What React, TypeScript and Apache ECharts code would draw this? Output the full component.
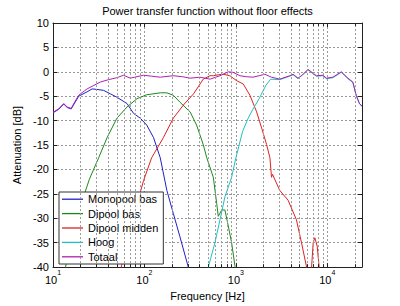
import React, { useEffect, useRef } from 'react';
import * as echarts from 'echarts';

// Frequencies (Hz) and attenuation (dB)
const monoFreq = [10, 11.5, 13.1, 14.3, 15.8, 17.5, 19.1, 23.6, 26.8, 30, 35.8, 42.3, 50, 64.5, 76, 90, 106, 126, 149, 176, 207, 244, 302];
const monoDb = [-8.4, -7.7, -6.6, -7.3, -7.6, -6.2, -5.0, -4.1, -3.5, -3.6, -3.8, -4.5, -5.2, -6.5, -8.5, -9.5, -10.9, -13.5, -17.6, -24.3, -29, -33.7, -40];

const dipBasFreq = [13.2, 13.7, 18, 25, 31.6, 39, 50, 64.5, 83, 106, 149, 176, 207, 244, 316, 372, 440, 481, 567, 618, 643, 700, 760, 827, 899, 977, 1000];
const dipBasDb = [-42, -40, -30, -22, -17.6, -13.5, -9.5, -7.2, -5.5, -4.7, -4.3, -4.3, -4.8, -6.2, -8.2, -10.9, -14.9, -17.6, -21.6, -27.0, -29.6, -28.3, -28.3, -31.6, -35, -39.7, -41];

const dipMidFreq = [54, 55.8, 75, 97.8, 120, 161, 207, 267, 345, 440, 522, 567, 650, 728, 860, 1018, 1206, 1426, 1688, 1915, 2170, 2360, 2430, 2456, 2520, 3025, 3730, 4600, 5230, 5940, 6400, 6740, 7020, 7320, 7760, 8160, 8400];
const dipMidDb = [-42, -40, -30, -22.3, -17.6, -13.5, -9.5, -6.8, -4.5, -1.5, -0.8, -0.8, -0.6, -0.5, -0.8, -1.8, -2.5, -4.8, -8.2, -11.5, -14.9, -17.6, -20.5, -21.6, -21.0, -24.3, -26.3, -30.3, -35, -40, -48, -40, -35, -34, -35.7, -40, -44];

const hoogFreq = [480, 500, 591, 671, 760, 899, 1002, 1186, 1365, 1524, 1800, 2128, 2400, 3025, 3890, 4230, 4790, 6160, 7600, 8980, 9770, 11540, 14250, 16830, 19070, 20740, 22540, 24000];
const hoogDb = [-42, -40, -35, -30.3, -25.6, -21.6, -17.6, -12.2, -9.5, -7.8, -5.5, -2.8, -1.5, -1.6, -0.9, -0.6, -1.4, 0.4, -0.9, -0.8, -1.4, -1.2, -0.1, -1.4, -2.2, -4.9, -6.6, -7.1];

const totaalFreq = [10, 11.5, 13.1, 14.3, 15.8, 17.5, 19.1, 23.6, 32.9, 40.6, 50, 59, 70, 98, 120, 149, 206, 260, 316, 406, 522, 671, 827, 930, 1109, 1300, 1537, 1800, 2077, 2456, 3025, 3890, 4230, 4790, 5400, 6160, 7600, 8980, 9770, 11540, 14250, 16830, 19070, 20740, 22540, 24000];
const totaalDb = [-8.3, -7.6, -6.5, -7.2, -7.5, -6.0, -4.8, -3.5, -2.1, -1.6, -1.2, -0.7, -1.3, -0.7, -0.9, -1.1, -0.8, -1.0, -1.3, -1.1, -1.5, -0.8, 0.0, -0.1, -0.8, -1.0, -1.1, -0.8, -0.5, -1.1, -1.5, -0.8, -0.5, -1.3, -0.6, 0.5, -0.8, -0.7, -1.3, -1.1, 0.0, -1.3, -2.1, -4.8, -6.5, -7.0];

const seriesNames = ['Monopool bas', 'Dipool bas', 'Dipool midden', 'Hoog', 'Totaal'];
const seriesColors = ['#2020c8', '#1a8a1a', '#e02020', '#20c0c0', '#b020b0'];

const minorGridFreqs = [20, 30, 40, 50, 60, 70, 80, 90, 200, 300, 400, 500, 600, 700, 800, 900, 2000, 3000, 4000, 5000, 6000, 7000, 8000, 9000, 20000];

const titleText = 'Power transfer function without floor effects';
const xName = 'Frequency [Hz]';
const yName = 'Attenuation [dB]';

const FONT = 'Liberation Sans, Arial, Helvetica, sans-serif';

const pair = (f: number[], d: number[]) => f.map((x, i) => [x, d[i]]);

export default function App() {
  const ref = useRef<HTMLDivElement>(null);
  useEffect(() => {
    document.body.style.margin = '0';
    const chart = echarts.init(ref.current!, null, { renderer: 'svg' });
    const gridStyle = { color: '#999', width: 1, type: [2, 2] as any };
    const axisColor = '#222';
    const expLabel = (v: number) => {
      const l = Math.log10(v);
      const n = Math.round(l);
      if (Math.abs(l - n) > 1e-6) return '';
      return `{b|10}{s|${n}}`;
    };
    const lineData = [pair(monoFreq, monoDb), pair(dipBasFreq, dipBasDb), pair(dipMidFreq, dipMidDb), pair(hoogFreq, hoogDb), pair(totaalFreq, totaalDb)];
    const minorMarks: any[] = [];
    minorGridFreqs.forEach((f) => minorMarks.push({ xAxis: f }));
    const tickMarks: any[] = [];
    minorGridFreqs.forEach((f) => {
      tickMarks.push([{ coord: [f, -40] }, { coord: [f, -39.4] }]);
      tickMarks.push([{ coord: [f, 10] }, { coord: [f, 9.4] }]);
    });
    const option: any = {
      animation: false,
      textStyle: { fontFamily: FONT },
      graphic: [
        {
          type: 'text',
          x: 207.5,
          y: 11,
          style: { text: titleText, align: 'center', verticalAlign: 'middle', fontSize: 11, fontFamily: FONT, fill: '#000' },
        },
      ],
      grid: { left: 53, right: 38, top: 23, bottom: 34 },
      legend: {
        data: seriesNames.map((n) => ({ name: n, icon: 'rect' })),
        orient: 'vertical',
        left: 59,
        top: 192,
        backgroundColor: '#fff',
        borderColor: '#333',
        borderWidth: 1,
        borderRadius: 0,
        padding: [0, 5, 0, 3],
        itemGap: 0,
        itemWidth: 21,
        itemHeight: 1.3,
        textStyle: { fontSize: 11, fontFamily: FONT, color: '#000', lineHeight: 14.4 },
        selectedMode: false,
      },
      xAxis: [
        {
          type: 'log',
          logBase: 10,
          min: 10,
          max: 24000,
          name: xName,
          nameLocation: 'middle',
          nameGap: 20,
          nameTextStyle: { fontSize: 11, color: '#000', fontFamily: FONT },
          axisLine: { show: true, onZero: false, lineStyle: { color: axisColor, width: 1 } },
          axisTick: { show: true, inside: true, length: 4, lineStyle: { color: axisColor } },
          axisLabel: {
            margin: 2,
            color: '#000',
            formatter: expLabel,
            showMaxLabel: false,
            rich: {
              b: { fontSize: 11, lineHeight: 16, verticalAlign: 'bottom', fontFamily: FONT, color: '#000' },
              s: { fontSize: 7, lineHeight: 7, verticalAlign: 'top', fontFamily: FONT, color: '#000' },
            },
          },
          splitLine: { show: true, lineStyle: gridStyle },
        },
        {
          type: 'log',
          logBase: 10,
          min: 10,
          max: 24000,
          position: 'top',
          axisLine: { show: true, onZero: false, lineStyle: { color: axisColor, width: 1 } },
          axisTick: { show: true, inside: true, length: 4, lineStyle: { color: axisColor } },
          axisLabel: { show: false },
          splitLine: { show: false },
        },
      ],
      yAxis: [
        {
          type: 'value',
          min: -40,
          max: 10,
          interval: 5,
          name: yName,
          nameLocation: 'middle',
          nameGap: 22,
          nameTextStyle: { fontSize: 11, color: '#000', fontFamily: FONT },
          axisLine: { show: true, onZero: false, lineStyle: { color: axisColor, width: 1 } },
          axisTick: { show: true, inside: true, length: 4, lineStyle: { color: axisColor } },
          axisLabel: { fontSize: 11, color: '#000', margin: 4, fontFamily: FONT },
          splitLine: { show: true, lineStyle: gridStyle },
        },
        {
          type: 'value',
          min: -40,
          max: 10,
          interval: 5,
          position: 'right',
          axisLine: { show: true, onZero: false, lineStyle: { color: axisColor, width: 1 } },
          axisTick: { show: true, inside: true, length: 4, lineStyle: { color: axisColor } },
          axisLabel: { show: false },
          splitLine: { show: false },
        },
      ],
      series: [
        {
          type: 'line',
          name: '__grid',
          data: [],
          xAxisIndex: 0,
          yAxisIndex: 0,
          silent: true,
          markLine: {
            silent: true,
            symbol: ['none', 'none'],
            label: { show: false },
            lineStyle: gridStyle,
            data: minorMarks,
          },
        },
        {
          type: 'line',
          name: '__ticks',
          data: [],
          xAxisIndex: 0,
          yAxisIndex: 0,
          silent: true,
          markLine: {
            silent: true,
            symbol: ['none', 'none'],
            label: { show: false },
            lineStyle: { color: axisColor, width: 1, type: 'solid' },
            data: tickMarks,
          },
        },
        ...seriesNames.map((name, i) => ({
          type: 'line',
          name,
          data: lineData[i],
          xAxisIndex: 0,
          yAxisIndex: 0,
          symbol: 'none',
          showSymbol: false,
          clip: true,
          color: seriesColors[i],
          lineStyle: { color: seriesColors[i], width: 1 },
          z: 3,
        })),
      ],
    };
    chart.setOption(option);
    return () => chart.dispose();
  }, []);
  return <div ref={ref} style={{ position: 'absolute', left: 0, top: 0, width: 400, height: 306, background: '#fff' }} />;
}
